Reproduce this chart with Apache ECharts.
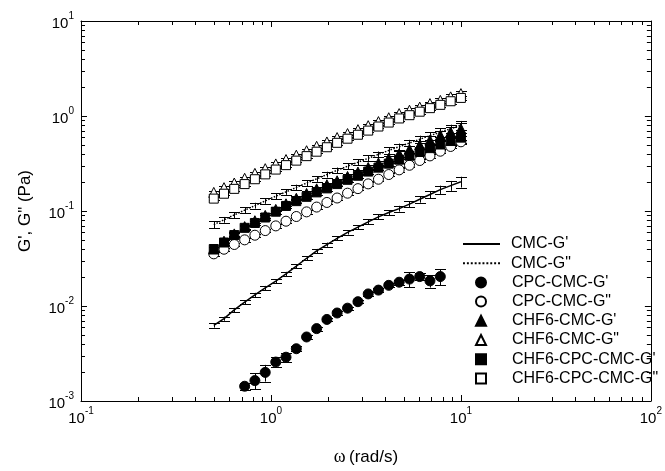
<!DOCTYPE html>
<html>
<head>
<meta charset="utf-8">
<script src="https://cdn.jsdelivr.net/npm/echarts@6/dist/echarts.min.js"></script>
<style>
  html, body { margin: 0; padding: 0; background: #fff; }
  #chart { width: 665px; height: 471px; }
</style>
</head>
<body>
<div id="chart"></div>
<script>
// Angular frequency sweep (rad/s)
const freq = [0.5, 0.566, 0.641, 0.727, 0.823, 0.933, 1.06, 1.2, 1.36, 1.54, 1.74, 1.97,
  2.23, 2.53, 2.87, 3.25, 3.68, 4.17, 4.73, 5.36, 6.07, 6.87, 7.79, 8.83, 10.0];
const cpcFreq = [0.727, 0.823, 0.933, 1.06, 1.2, 1.36, 1.54, 1.74, 1.97, 2.23,
  2.53, 2.87, 3.25, 3.68, 4.17, 4.73, 5.36, 6.07, 6.87, 7.79];

// Moduli (Pa)
const cmcGp = [0.00624, 0.00736, 0.00910, 0.0110, 0.0131, 0.0155, 0.0183, 0.0218, 0.0263, 0.0318,
  0.0380, 0.0443, 0.0516, 0.0595, 0.0677, 0.0768, 0.0868, 0.0965, 0.106, 0.118, 0.133, 0.149,
  0.168, 0.185, 0.203];
const cmcGpp = [0.0719, 0.0809, 0.0908, 0.102, 0.114, 0.128, 0.143, 0.159, 0.177, 0.197, 0.218,
  0.242, 0.268, 0.296, 0.326, 0.359, 0.395, 0.434, 0.475, 0.520, 0.569, 0.621, 0.676, 0.736, 0.799];
const cpcGp = [0.00143, 0.00164, 0.00200, 0.00257, 0.00289, 0.00355, 0.00472, 0.00578, 0.00722,
  0.00844, 0.00949, 0.0111, 0.0134, 0.0147, 0.0165, 0.0178, 0.0192, 0.0204, 0.0184, 0.0204];
const cpcGpp = [0.0354, 0.0396, 0.0444, 0.0497, 0.0556, 0.0622, 0.0697, 0.0781, 0.0875, 0.0979,
  0.110, 0.123, 0.137, 0.154, 0.172, 0.193, 0.216, 0.242, 0.271, 0.303, 0.340, 0.380, 0.426,
  0.478, 0.535];
const hfGp = [0.0398, 0.0481, 0.0574, 0.0685, 0.0790, 0.0899, 0.104, 0.119, 0.136, 0.153, 0.171,
  0.189, 0.208, 0.231, 0.257, 0.287, 0.320, 0.358, 0.400, 0.445, 0.495, 0.557, 0.626, 0.677, 0.732];
const hfGpp = [0.157, 0.176, 0.197, 0.221, 0.249, 0.279, 0.313, 0.348, 0.387, 0.431, 0.480, 0.533,
  0.593, 0.653, 0.718, 0.791, 0.873, 0.959, 1.06, 1.15, 1.24, 1.35, 1.46, 1.59, 1.72];
const hfCpcGp = [0.0398, 0.0466, 0.0558, 0.0665, 0.0748, 0.0854, 0.0983, 0.113, 0.127, 0.141, 0.157,
  0.173, 0.192, 0.213, 0.235, 0.260, 0.286, 0.315, 0.347, 0.382, 0.418, 0.459, 0.501, 0.545, 0.592];
const hfCpcGpp = [0.135, 0.152, 0.171, 0.192, 0.216, 0.243, 0.273, 0.304, 0.339, 0.378, 0.421, 0.469,
  0.522, 0.577, 0.635, 0.702, 0.775, 0.853, 0.942, 1.02, 1.11, 1.21, 1.31, 1.43, 1.55];

// Standard deviations, percent of the mean
const cmcGpErr = [5, 5, 5, 5, 5, 5, 5, 5, 5, 5, 5, 5, 5, 5, 5, 6, 6, 6, 7, 7, 8, 8, 10, 12, 13];
const cmcGppErr = [8, 7, 7, 7, 7, 7, 7, 7, 7, 7, 7, 7, 7, 7, 7, 7, 7, 8, 8, 8, 9, 9, 10, 10, 11];
const cpcGpErr = [8, 19, 20, 12, 10, 6, 5, 5, 4, 5, 4, 4, 5, 4, 5, 6, 18, 8, 15, 19];
const cpcGppErr = [4, 4, 4, 4, 4, 4, 4, 4, 4, 4, 4, 4, 4, 4, 4, 4, 4, 4, 4, 4, 4, 4, 4, 4, 5];
const hfGpErr = [5, 5, 5, 5, 5, 5, 5, 5, 5, 5, 5, 5, 5, 5, 6, 6, 6, 7, 7, 8, 9, 10, 11, 13, 15];
const hfGppErr = [4, 4, 4, 4, 4, 4, 4, 4, 4, 4, 4, 4, 4, 4, 4, 4, 4, 4, 5, 5, 5, 5, 5, 6, 6];
const hfCpcGpErr = [5, 5, 5, 5, 5, 5, 5, 5, 5, 5, 5, 5, 5, 5, 5, 6, 6, 6, 7, 7, 8, 9, 10, 11, 12];
const hfCpcGppErr = [4, 4, 4, 4, 4, 4, 4, 4, 4, 4, 4, 4, 4, 4, 4, 4, 4, 4, 5, 5, 5, 5, 5, 6, 6];

const lineNames = ['CMC-G\'', 'CMC-G"'];
const markerNames = ['CPC-CMC-G\'', 'CPC-CMC-G"', 'CHF6-CMC-G\'', 'CHF6-CMC-G"',
  'CHF6-CPC-CMC-G\'', 'CHF6-CPC-CMC-G"'];

const xDecades = [-1, 0, 1];
const yDecades = [-3, -2, -1, 0];
const minorMultipliers = [2, 3, 4, 5, 6, 7, 8, 9];

const SANS = 'Liberation Sans, Arial, sans-serif';
const SERIF = 'Liberation Serif, Times New Roman, serif';

const chart = echarts.init(document.getElementById('chart'), null, { renderer: 'canvas' });

const tickRich = {
  b: { fontSize: 15, fontFamily: SANS, color: '#000', lineHeight: 20, verticalAlign: 'bottom' },
  s: { fontSize: 10, fontFamily: SANS, color: '#000', lineHeight: 10, verticalAlign: 'top' }
};
const powerLabel = v => '{b|10}{s|' + Math.round(Math.log10(v)) + '}';

function errorBars(xs, ys, err) {
  return {
    type: 'custom',
    silent: true,
    z: 1,
    clip: false,
    data: xs.map((x, i) => [x, ys[i] * (1 - err[i] / 100), ys[i] * (1 + err[i] / 100)]),
    encode: { x: 0, y: [1, 2] },
    renderItem: (params, api) => {
      const lo = api.coord([api.value(0), api.value(1)]);
      const hi = api.coord([api.value(0), api.value(2)]);
      const x = Math.round(lo[0]) + 0.5;
      const w = 5.5;
      const st = { stroke: '#000', lineWidth: 1 };
      return {
        type: 'group',
        children: [
          { type: 'line', shape: { x1: x, y1: lo[1], x2: x, y2: hi[1] }, style: st },
          { type: 'line', shape: { x1: x - w, y1: Math.round(lo[1]) + 0.5, x2: x + w, y2: Math.round(lo[1]) + 0.5 }, style: st },
          { type: 'line', shape: { x1: x - w, y1: Math.round(hi[1]) + 0.5, x2: x + w, y2: Math.round(hi[1]) + 0.5 }, style: st }
        ]
      };
    }
  };
}

// minor log ticks on all four sides of the frame
const xMinor = [];
xDecades.forEach(d => minorMultipliers.forEach(m => xMinor.push([m * Math.pow(10, d), 1])));
const yMinor = [];
yDecades.forEach(d => minorMultipliers.forEach(m => yMinor.push([1, m * Math.pow(10, d)])));
const MINOR_LEN = 4;

function minorTicks(data, vertical) {
  return {
    type: 'custom',
    silent: true,
    clip: false,
    z: 5,
    data: data,
    encode: { x: 0, y: 1 },
    renderItem: (params, api) => {
      const cs = params.coordSys;
      const p = api.coord([api.value(0), api.value(1)]);
      const st = { stroke: '#000', lineWidth: 1 };
      if (vertical) {
        const x = Math.round(p[0]) + 0.5;
        const yb = cs.y + cs.height, yt = cs.y;
        return { type: 'group', children: [
          { type: 'line', shape: { x1: x, y1: yb, x2: x, y2: yb - MINOR_LEN }, style: st },
          { type: 'line', shape: { x1: x, y1: yt, x2: x, y2: yt + MINOR_LEN }, style: st }
        ] };
      }
      const y = Math.round(p[1]) + 0.5;
      const xl = cs.x, xr = cs.x + cs.width;
      return { type: 'group', children: [
        { type: 'line', shape: { x1: xl, y1: y, x2: xl + MINOR_LEN, y2: y }, style: st },
        { type: 'line', shape: { x1: xr, y1: y, x2: xr - MINOR_LEN, y2: y }, style: st }
      ] };
    }
  };
}

const pairs = (xs, ys) => xs.map((x, i) => [x, ys[i]]);

const axisCommon = {
  type: 'log',
  logBase: 10,
  axisLine: { show: true, lineStyle: { color: '#000', width: 1 } },
  axisTick: { show: true, inside: true, length: 6, lineStyle: { color: '#000', width: 1 } },
  splitLine: { show: false },
  minorTick: { show: false }
};

const filled = { color: '#000', borderColor: '#000', borderWidth: 1, opacity: 1 };
const hollow = { color: '#fff', borderColor: '#000', borderWidth: 1, opacity: 1 };

// legend glyphs for the two curves: a solid bar and a row of dots
const solidIcon = 'path://M0,0h38v2h-38z';
let dots = 'path://';
for (let i = 0; i < 10; i++) dots += 'M' + (i * 4) + ',0h2v2h-2z';
const dottedIcon = dots;

const legendText = { fontSize: 16, fontFamily: SANS, color: '#000', lineHeight: 16 };

const option = {
  animation: false,
  backgroundColor: '#fff',
  grid: { left: 81, right: 10, top: 21, bottom: 60, containLabel: false },
  xAxis: [
    Object.assign({}, axisCommon, {
      min: 0.1, max: 100, position: 'bottom',
      axisLabel: { show: true, margin: 5, formatter: powerLabel, rich: tickRich },
      name: '{w|ω} {t|(rad/s)}',
      nameLocation: 'middle',
      nameGap: 47,
      nameTextStyle: {
        rich: {
          w: { fontSize: 18, fontFamily: SERIF, color: '#000' },
          t: { fontSize: 17, fontFamily: SANS, color: '#000' }
        }
      }
    }),
    Object.assign({}, axisCommon, {
      min: 0.1, max: 100, position: 'top', axisLabel: { show: false }
    })
  ],
  yAxis: [
    Object.assign({}, axisCommon, {
      min: 0.001, max: 10, position: 'left',
      axisLabel: { show: true, margin: 7, formatter: powerLabel, rich: tickRich },
      name: 'G\', G" (Pa)',
      nameLocation: 'middle',
      nameRotate: 90,
      nameGap: 47,
      nameTextStyle: { fontSize: 17, fontFamily: SANS, color: '#000' }
    }),
    Object.assign({}, axisCommon, {
      min: 0.001, max: 10, position: 'right', axisLabel: { show: false }
    })
  ],
  legend: [
    {
      orient: 'vertical',
      left: 458,
      top: 231,
      itemWidth: 37,
      itemHeight: 2,
      itemGap: 3.2,
      selectedMode: false,
      textStyle: Object.assign({ padding: [0, 0, 0, 6] }, legendText),
      data: [
        { name: lineNames[0], icon: solidIcon },
        { name: lineNames[1], icon: dottedIcon }
      ]
    },
    {
      orient: 'vertical',
      left: 470,
      top: 269.4,
      itemWidth: 10,
      itemHeight: 10,
      itemGap: 3.2,
      selectedMode: false,
      textStyle: Object.assign({ padding: [0, 0, 0, 21] }, legendText),
      data: markerNames
    }
  ],
  series: [
    minorTicks(xMinor, true),
    minorTicks(yMinor, false),
    errorBars(freq, cmcGp, cmcGpErr),
    errorBars(freq, cmcGpp, cmcGppErr),
    errorBars(cpcFreq, cpcGp, cpcGpErr),
    errorBars(freq, cpcGpp, cpcGppErr),
    errorBars(freq, hfGp, hfGpErr),
    errorBars(freq, hfGpp, hfGppErr),
    errorBars(freq, hfCpcGp, hfCpcGpErr),
    errorBars(freq, hfCpcGpp, hfCpcGppErr),
    {
      name: lineNames[0], type: 'line', z: 2, symbol: 'none', silent: true,
      lineStyle: { color: '#000', width: 1.5, type: 'solid' },
      itemStyle: { color: '#000' },
      data: pairs(freq, cmcGp)
    },
    {
      name: lineNames[1], type: 'line', z: 2, symbol: 'none', silent: true,
      lineStyle: { color: '#000', width: 1.5, type: 'dotted' },
      itemStyle: { color: '#000' },
      data: pairs(freq, cmcGpp)
    },
    {
      name: markerNames[0], type: 'scatter', z: 3, symbol: 'circle', symbolSize: 10, silent: true,
      itemStyle: filled, data: pairs(cpcFreq, cpcGp)
    },
    {
      name: markerNames[1], type: 'scatter', z: 3, symbol: 'circle', symbolSize: 10, silent: true,
      itemStyle: hollow, data: pairs(freq, cpcGpp)
    },
    {
      name: markerNames[2], type: 'scatter', z: 3, symbol: 'triangle', symbolSize: 10, silent: true,
      itemStyle: filled, data: pairs(freq, hfGp)
    },
    {
      name: markerNames[3], type: 'scatter', z: 3, symbol: 'triangle', symbolSize: 10, silent: true,
      itemStyle: hollow, data: pairs(freq, hfGpp)
    },
    {
      name: markerNames[4], type: 'scatter', z: 3, symbol: 'rect', symbolSize: 9, silent: true,
      itemStyle: filled, data: pairs(freq, hfCpcGp)
    },
    {
      name: markerNames[5], type: 'scatter', z: 3, symbol: 'rect', symbolSize: 9, silent: true,
      itemStyle: hollow, data: pairs(freq, hfCpcGpp)
    }
  ]
};

chart.setOption(option);
</script>
</body>
</html>
